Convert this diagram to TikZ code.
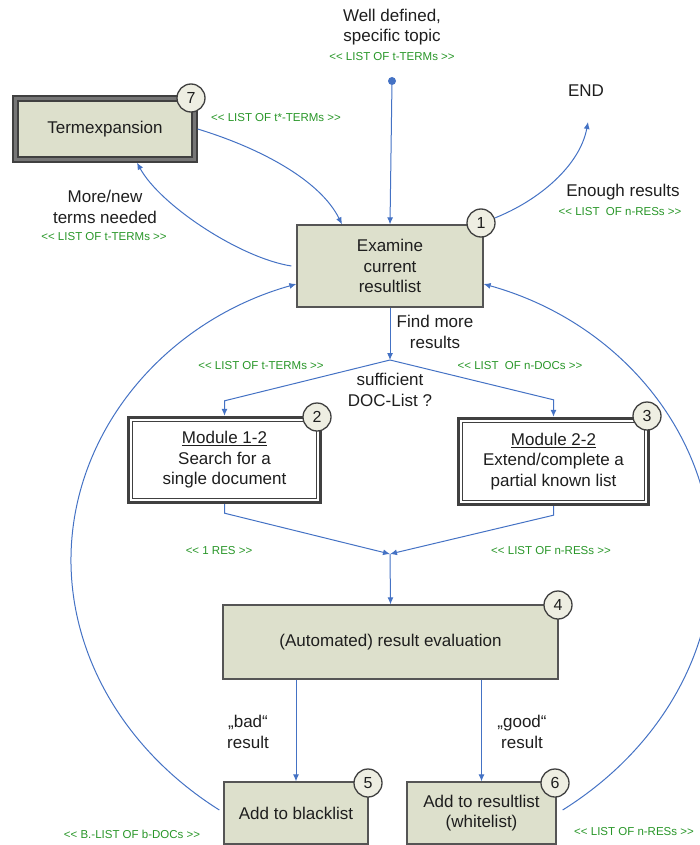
\documentclass[tikz,border=0pt]{standalone}
\usepackage{fontspec}
\setmainfont{Liberation Sans}
% plain family without TeX ligatures, so that << and >> stay as typed
\newfontfamily\tagface{Liberation Sans}
\usetikzlibrary{arrows.meta,calc}

\definecolor{boxfill}{RGB}{221,224,204}
\definecolor{ringfill}{RGB}{238,238,226}
\definecolor{frame}{RGB}{85,85,85}
\definecolor{darkframe}{RGB}{64,64,64}
\definecolor{midframe}{RGB}{118,118,118}
\definecolor{flow}{RGB}{68,114,196}
\definecolor{tag}{RGB}{40,150,40}
\definecolor{ink}{RGB}{30,30,30}

\newcommand{\bigtxt}{\fontsize{17}{20.5}\selectfont}
\newcommand{\tagtxt}{\tagface\fontsize{11.5}{13}\selectfont}
\newcommand{\numtxt}{\fontsize{16}{16}\selectfont}

\begin{document}
\begin{tikzpicture}[x=1pt,y=-1pt,
  plainbox/.style={rectangle, fill=boxfill, draw=frame, line width=1.3pt,
    align=center, font=\bigtxt, text=ink, inner sep=0pt},
  framedbox/.style={rectangle, fill=white, align=center, font=\bigtxt,
    text=ink, inner sep=0pt},
  stepnum/.style={circle, fill=ringfill, draw=darkframe, line width=1.3pt,
    minimum size=28pt, inner sep=0pt, font=\numtxt, text=ink},
  lbl/.style={font=\bigtxt, text=ink, align=center, inner sep=0pt},
  tagl/.style={font=\tagtxt, text=tag, inner sep=0pt},
  arr/.style={draw=flow, line width=1pt, -{Latex[length=7pt,width=6pt]}}
]
\useasboundingbox (0,0) rectangle (700,845);
\clip (0,0) rectangle (700,845);

% ---- process boxes ----
\node[plainbox, draw=none, minimum width=184pt, minimum height=66pt] (n7) at (105,129) {Termexpansion};
\draw[darkframe, line width=7pt] ([shift={(3.5pt,-3.5pt)}]n7.north west) rectangle ([shift={(-3.5pt,3.5pt)}]n7.south east);
\draw[midframe, line width=3pt] ([shift={(3.5pt,-3.5pt)}]n7.north west) rectangle ([shift={(-3.5pt,3.5pt)}]n7.south east);

\node[plainbox, minimum width=186pt, minimum height=82pt] (n1) at (390,266) {Examine\\current\\resultlist};

\node[framedbox, minimum width=195pt, minimum height=88pt] (n2) at (224.5,460)
  {\underline{Module 1-2}\\Search for a\\single document};
\node[framedbox, minimum width=193pt, minimum height=89pt] (n3) at (553.5,461.5)
  {\underline{Module 2-2}\\Extend/complete a\\partial known list};
\foreach \b in {n2,n3}{
  \draw[darkframe, line width=3pt] ([shift={(1.5pt,-1.5pt)}]\b.north west) rectangle ([shift={(-1.5pt,1.5pt)}]\b.south east);
  \draw[darkframe, line width=1.1pt] ([shift={(5.5pt,-5.5pt)}]\b.north west) rectangle ([shift={(-5.5pt,5.5pt)}]\b.south east);
}

\node[plainbox, minimum width=335pt, minimum height=74pt] (n4) at (390.5,642) {(Automated) result evaluation};
\node[plainbox, minimum width=144pt, minimum height=62pt] (n5) at (296,813) {Add to blacklist};
\node[plainbox, minimum width=149pt, minimum height=62pt] (n6) at (481.5,813) {Add to resultlist\\(whitelist)};

% ---- step numbers ----
\node[stepnum] (c7) at (191,98) {7};
\node[stepnum] (c1) at (481,223) {1};
\node[stepnum] (c2) at (317,417) {2};
\node[stepnum] (c3) at (647,416) {3};
\node[stepnum] (c4) at (558,605) {4};
\node[stepnum] (c5) at (368,783) {5};
\node[stepnum] (c6) at (555,783) {6};

% ---- free points ----
\node[circle, fill=flow, inner sep=0pt, minimum size=8pt] (src) at (392,81) {};
\node[lbl] (endn) at (586,91) {END};
\coordinate (endtip) at (588,122);
\coordinate (split) at (390,360);
\coordinate (join) at (390,554);
\coordinate (lbend) at (73.7,522.4);
\coordinate (rbend) at (709.2,522.4);

% ---- connectors ----
\draw[arr] (src) -- (n1.north);
\draw[arr] (n7.east) .. controls (260,148) and (320,180) .. ([xshift=-48pt]n1.north);
\draw[arr] ([xshift=-5pt]n1.west) .. controls (240,258) and (160,205) .. ([xshift=32pt]n7.south);
\draw[arr] (c1.20) .. controls (540,200) and (580,165) .. (endtip);
\draw[arr] (n1.south) -- (split);
\draw[arr] (split) -- ([yshift=15pt]n2.north) -- (n2.north);
\draw[arr] (split) -- ([yshift=17pt]n3.north) -- (n3.north);
\draw[arr] (n2.south) -- ([yshift=-9pt]n2.south) -- (join);
\draw[arr] (n3.south) -- ([yshift=-9pt]n3.south) -- (join);
\draw[arr] (join) -- (n4.north);
\draw[arr] (n5.north |- n4.south) -- (n5.north);
\draw[arr] (n6.north |- n4.south) -- (n6.north);
\draw[arr] ([shift={(-4pt,3pt)}]n5.west) .. controls (115,744.4) and (57.4,634.2) .. (lbend)
  .. controls (90,410.6) and (177.2,317.6) .. ([yshift=-18pt]n1.west);
\draw[arr] ([shift={(6pt,3pt)}]n6.east) .. controls (667.6,744.4) and (725.7,634.2) .. (rbend)
  .. controls (692.7,410.6) and (604.8,317.6) .. ([yshift=-18pt]n1.east);

% ---- labels ----
\node[lbl] (topic) at (392,27) {Well defined,\\specific topic};
\node[tagl] (topictag) at (392,57) {<< LIST OF t-TERMs >>};
\node[tagl] (startag) at (276,118) {<< LIST OF t*-TERMs >>};
\node[lbl] (more) at (105,207) {More/new\\terms needed};
\node[tagl] (moretag) at (104,237) {<< LIST OF t-TERMs >>};
\node[lbl] (enough) at (623,192) {Enough results};
\node[tagl] (enoughtag) at (620,212) {<< LIST~~OF n-RESs >>};
\node[lbl] (findmore) at (435,332) {Find more\\results};
\node[tagl] (ttag) at (261,366) {<< LIST OF t-TERMs >>};
\node[tagl] (dtag) at (520,366) {<< LIST~~OF n-DOCs >>};
\node[lbl] (suff) at (390,390) {sufficient\\DOC-List ?};
\node[tagl] (onetag) at (219,551) {<< 1 RES >>};
\node[tagl] (restag) at (551,551) {<< LIST OF n-RESs >>};
\node[lbl] (bad) at (248,732) {„bad“\\result};
\node[lbl] (good) at (522,732) {„good“\\result};
\node[tagl] (btag) at (132,834) {<< B.-LIST OF b-DOCs >>};
\node[tagl] (wtag) at (634,832) {<< LIST OF n-RESs >>};
\end{tikzpicture}
\end{document}
